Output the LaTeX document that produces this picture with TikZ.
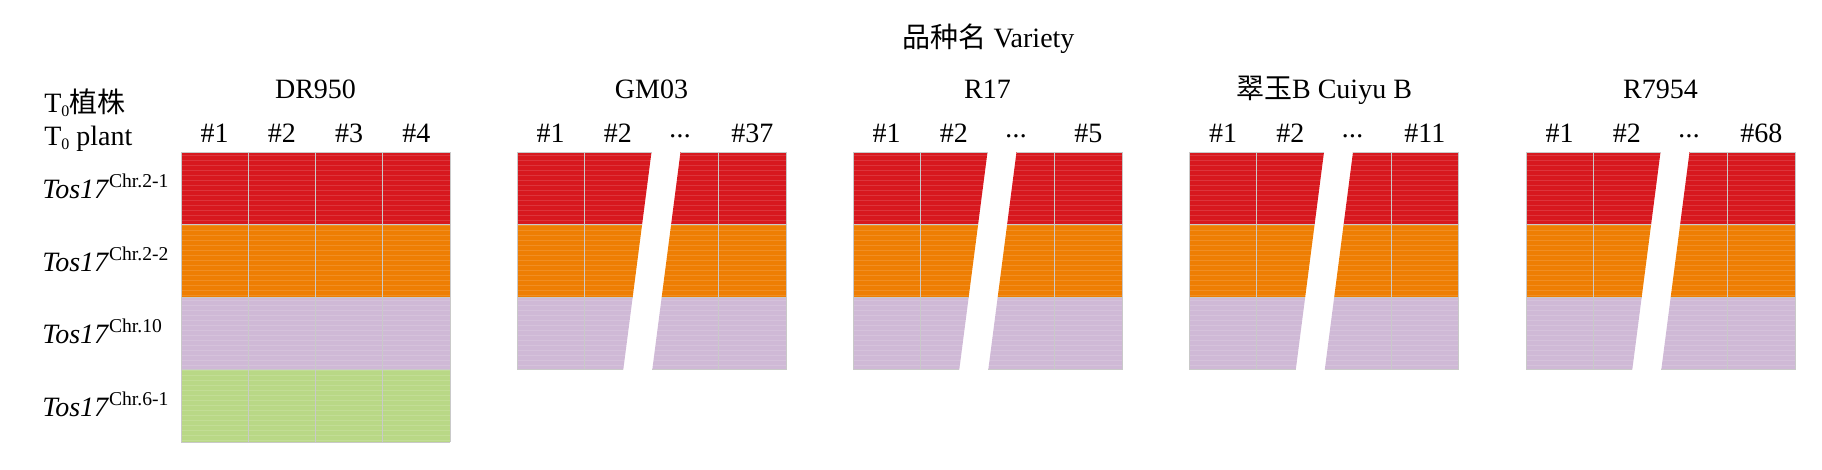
\documentclass[tikz,border=0pt]{standalone}
\usepackage{fontspec}
\setmainfont{Liberation Serif}
\newfontfamily\cjk{Noto Sans CJK SC}

\definecolor{chrred}{HTML}{D7181E}
\definecolor{chrorange}{HTML}{EE7E03}
\definecolor{chrlilac}{HTML}{CFB9D6}
\definecolor{chrgreen}{HTML}{B9D886}
\definecolor{cellline}{HTML}{C9C9C9}

\newcommand\lowidx[1]{\raisebox{-0.35ex}{\fontsize{12}{12}\selectfont #1}}
\newcommand\skipdots{\raisebox{-2.5pt}{\textperiodcentered\kern-1.5pt\textperiodcentered\kern-1.5pt\textperiodcentered}}

\begin{document}
\begin{tikzpicture}[x=0.75pt, y=-0.75pt,
    every node/.style={inner sep=0pt, font=\fontsize{21}{25}\selectfont},
    gridline/.style={draw=cellline, line width=0.7pt},
    stripe/.style={draw=white, opacity=0.13, line width=0.35pt}]
  \useasboundingbox (0,0) rectangle (1822,469);

  % Headings
  \node[anchor=base] (title) at (988.5,47) {{\cjk 品种名} Variety};
  \node[anchor=base west] (plantcn) at (44,112) {T\lowidx{0}{\cjk 植株}};
  \node[anchor=base west] (planten) at (44,145) {T\lowidx{0} plant};

  % Insertion sites
  \node[anchor=base west] (tosa) at (42,198) {\textit{Tos17}\textsuperscript{Chr.2-1}};
  \node[anchor=base west] (tosb) at (42,271) {\textit{Tos17}\textsuperscript{Chr.2-2}};
  \node[anchor=base west] (tosc) at (42,343) {\textit{Tos17}\textsuperscript{Chr.10}};
  \node[anchor=base west] (tosd) at (42,416) {\textit{Tos17}\textsuperscript{Chr.6-1}};

  % Variety names
  \node[anchor=base] (dr) at (315.5,98) {DR950};
  \node[anchor=base] (gm) at (651.5,98) {GM03};
  \node[anchor=base] (rs) at (987.5,98) {R17};
  \node[anchor=base] (cy) at (1324,98) {{\cjk 翠玉}B Cuiyu B};
  \node[anchor=base] (rw) at (1660.5,98) {R7954};

  % DR950 cells
  \foreach \r/\col in {0/chrred,1/chrorange,2/chrlilac,3/chrgreen}
    \fill[\col] (181,{152+72.5*\r}) rectangle (450,{224.5+72.5*\r});

  % Broken blocks
  \foreach \xo in {517,853,1189.5,1526} {
    \foreach \r/\col in {0/chrred,1/chrorange,2/chrlilac} {
      \pgfmathsetmacro\ya{152+72.5*\r}
      \pgfmathsetmacro\yb{\ya+72.5}
      \pgfmathsetmacro\sa{9.4*\r}
      \pgfmathsetmacro\sb{\sa+9.4}
      \fill[\col] (\xo,\ya) -- ({\xo+134.5-\sa},\ya) -- ({\xo+134.5-\sb},\yb) -- (\xo,\yb) -- cycle;
      \fill[\col] ({\xo+163.5-\sa},\ya) -- ({\xo+269},\ya) -- ({\xo+269},\yb) -- ({\xo+163.5-\sb},\yb) -- cycle;
    }
  }

  % faint stripes
  \foreach \y in {155,160,...,440}
    \draw[stripe] (181,\y) -- (1796,\y);

  % grid lines
  \foreach \i in {0,...,4} {
    \draw[gridline] ({181+67.25*\i},152) -- ({181+67.25*\i},442);
    \draw[gridline] (181,{152+72.5*\i}) -- (450,{152+72.5*\i});
  }
  \foreach \xo in {517,853,1189.5,1526} {
    \foreach \j in {0,...,3} {
      \draw[gridline] (\xo,{152+72.5*\j}) -- ({\xo+134.5-9.4*\j},{152+72.5*\j});
      \draw[gridline] ({\xo+163.5-9.4*\j},{152+72.5*\j}) -- ({\xo+269},{152+72.5*\j});
    }
    \foreach \i in {0,1,3,4}
      \draw[gridline] ({\xo+67.25*\i},152) -- ({\xo+67.25*\i},369.5);
  }

  % Plant numbers
  \foreach \i in {1,...,4}
    \node[anchor=base] (dr\i) at ({181+67.25*(\i-0.5)},142) {\#\i};
  \foreach \xo/\nm/\last in {517/gm/37, 853/rs/5, 1189.5/cy/11, 1526/rw/68} {
    \node[anchor=base] (\nm one) at ({\xo+33.6},142) {\#1};
    \node[anchor=base] (\nm two) at ({\xo+100.9},142) {\#2};
    \node[anchor=base] (\nm dots) at ({\xo+163},142) {\skipdots};
    \node[anchor=base] (\nm last) at ({\xo+235.4},142) {\#\last};
  }
\end{tikzpicture}
\end{document}
